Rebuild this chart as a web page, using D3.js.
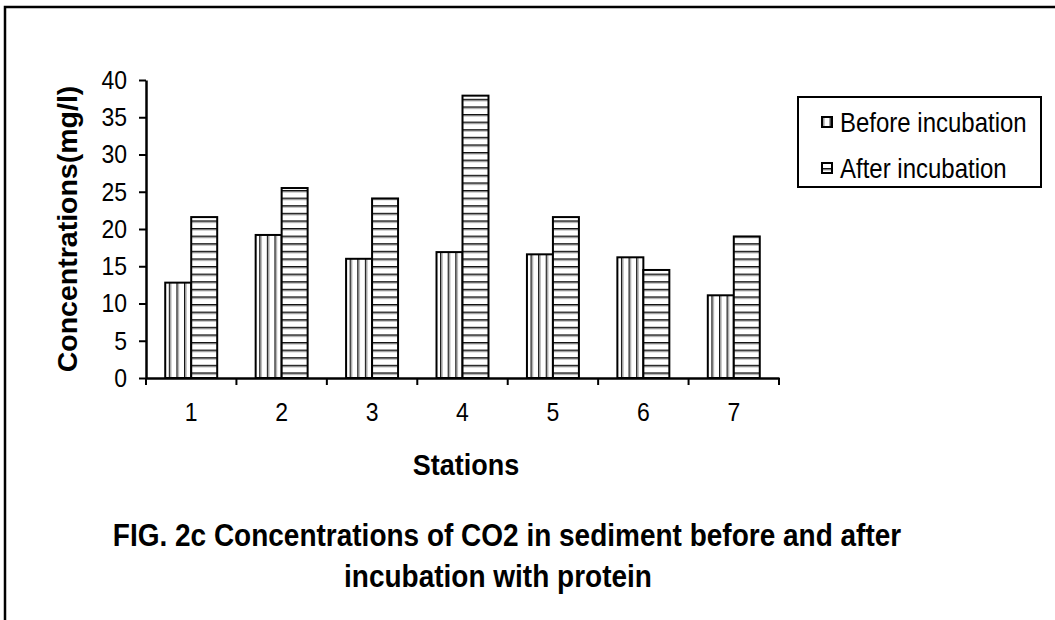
<!DOCTYPE html>
<html>
<head>
<meta charset="utf-8">
<script src="https://cdn.jsdelivr.net/npm/d3@7"></script>
<style>
  html, body { margin: 0; padding: 0; background: #fff; }
  svg { display: block; font-family: "Liberation Sans", Arial, sans-serif; }
  .stretch { transform-box: fill-box; transform-origin: center; transform: scaleY(1.12); }
  .stretch2 { transform-box: fill-box; transform-origin: center; transform: scaleY(1.15); }
</style>
</head>
<body>
<svg id="chart" width="1055" height="620"></svg>
<script>
// ---- data ----
const stations = ["1", "2", "3", "4", "5", "6", "7"];
const seriesNames = ["Before incubation", "After incubation"];
const beforeValues = [12.8, 19.2, 16.0, 16.9, 16.6, 16.2, 11.1];
const afterValues = [21.6, 25.5, 24.1, 37.9, 21.6, 14.5, 19.0];
const yTicks = [0, 5, 10, 15, 20, 25, 30, 35, 40];
const yTitle = "Concentrations(mg/l)";
const xTitle = "Stations";
const captionLines = ["FIG. 2c Concentrations of CO2 in sediment before and after", "incubation with protein"];

const svg = d3.select("#chart");
const W = 1055, H = 620;
const plot = { left: 146, right: 779, top: 80, bottom: 378 };

// patterns
const defs = svg.append("defs");
const pv = defs.append("pattern").attr("id", "vstripe")
  .attr("patternUnits", "userSpaceOnUse").attr("width", 7.6).attr("height", 10);
pv.append("rect").attr("width", 7.6).attr("height", 10).attr("fill", "#fff");
pv.append("rect").attr("x", 0).attr("width", 1.4).attr("height", 10).attr("fill", "#111");
pv.append("rect").attr("x", 1.4).attr("width", 1.2).attr("height", 10).attr("fill", "#aaa");
const ph = defs.append("pattern").attr("id", "hstripe")
  .attr("patternUnits", "userSpaceOnUse").attr("width", 10).attr("height", 7.6);
ph.append("rect").attr("width", 10).attr("height", 7.6).attr("fill", "#fff");
ph.append("rect").attr("y", 0).attr("width", 10).attr("height", 1.6).attr("fill", "#111");
ph.append("rect").attr("y", 1.6).attr("width", 10).attr("height", 1).attr("fill", "#bbb");
const fills = ["url(#vstripe)", "url(#hstripe)"];

// outer frame
svg.append("path")
  .attr("d", `M5,${H} L5,7 L${W},7`)
  .attr("fill", "none").attr("stroke", "#000").attr("stroke-width", 2.5);

// scales
const x0 = d3.scaleBand().domain(stations).range([plot.left, plot.right]).paddingInner(0).paddingOuter(0);
const x1 = d3.scaleBand().domain(seriesNames).range([0, x0.bandwidth()]).paddingInner(0).paddingOuter(0.74);
const y = d3.scaleLinear().domain([0, 40]).range([plot.bottom, plot.top]);

const data = stations.map((s, i) => ({ s, vals: [beforeValues[i], afterValues[i]] }));

// bars
const groups = svg.append("g").selectAll("g").data(data).join("g")
  .attr("transform", d => `translate(${x0(d.s)},0)`);
groups.selectAll("rect").data(d => d.vals.map((v, k) => ({ v, k }))).join("rect")
  .attr("x", d => x1(seriesNames[d.k]))
  .attr("y", d => y(d.v))
  .attr("width", x1.bandwidth())
  .attr("height", d => y(0) - y(d.v))
  .attr("fill", d => fills[d.k])
  .attr("stroke", "#000").attr("stroke-width", 2);

// y axis
const yAxis = svg.append("g").attr("transform", `translate(${plot.left},0)`)
  .call(d3.axisLeft(y).tickValues(yTicks).tickSize(7).tickPadding(12).tickSizeOuter(0));
yAxis.select(".domain").attr("stroke-width", 2.5);
yAxis.selectAll(".tick line").attr("stroke-width", 2);
yAxis.selectAll(".tick text").attr("font-size", 23).attr("fill", "#000")
  .attr("font-family", "Liberation Sans, Arial, sans-serif").attr("class", "stretch");

// x axis
const xAxis = svg.append("g").attr("transform", `translate(0,${plot.bottom})`)
  .call(d3.axisBottom(x0).tickSize(0).tickPadding(26).tickSizeOuter(0));
xAxis.select(".domain").attr("stroke-width", 2.5);
xAxis.selectAll(".tick text").attr("font-size", 23).attr("fill", "#000")
  .attr("font-family", "Liberation Sans, Arial, sans-serif").attr("class", "stretch");
// boundary ticks
const boundaries = stations.map(s => x0(s)).concat([x0.range()[1]]);
xAxis.append("g").selectAll("line").data(boundaries).join("line")
  .attr("x1", d => d).attr("x2", d => d).attr("y1", 0).attr("y2", 7)
  .attr("stroke", "#000").attr("stroke-width", 2);

// axis titles
svg.append("text")
  .attr("transform", `translate(77,${(plot.top + plot.bottom) / 2}) rotate(-90)`)
  .attr("text-anchor", "middle").attr("font-weight", "bold").attr("font-size", 28.5)
  .text(yTitle);
svg.append("text")
  .attr("x", 466).attr("y", 474)
  .attr("text-anchor", "middle").attr("font-weight", "bold").attr("font-size", 27)
  .attr("class", "stretch")
  .text(xTitle);

// caption
svg.append("text").attr("x", 507).attr("y", 545)
  .attr("text-anchor", "middle").attr("font-weight", "bold").attr("font-size", 28)
  .attr("class", "stretch2")
  .text(captionLines[0]);
svg.append("text").attr("x", 498).attr("y", 586)
  .attr("text-anchor", "middle").attr("font-weight", "bold").attr("font-size", 28)
  .attr("class", "stretch2")
  .text(captionLines[1]);

// legend
const lg = svg.append("g");
lg.append("rect").attr("x", 798).attr("y", 97).attr("width", 243).attr("height", 90)
  .attr("fill", "#fff").attr("stroke", "#000").attr("stroke-width", 2);
const items = lg.selectAll("g.item").data(seriesNames).join("g").attr("class", "item")
  .attr("transform", (d, i) => `translate(822,${122 + i * 46})`);
items.append("rect").attr("x", 0).attr("y", -5).attr("width", 10).attr("height", 10)
  .attr("fill", (d, i) => fills[i]).attr("stroke", "#000").attr("stroke-width", 2);
items.append("text").attr("x", 18).attr("y", 9).attr("font-size", 24)
  .attr("class", "stretch").text(d => d);
</script>
</body>
</html>
